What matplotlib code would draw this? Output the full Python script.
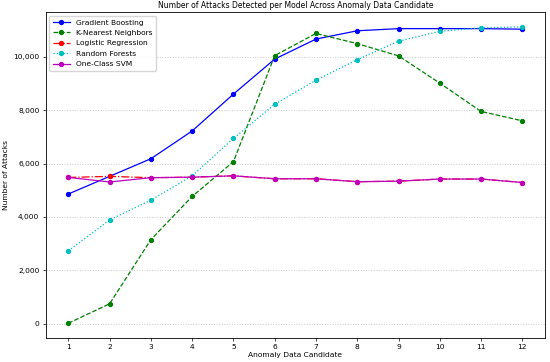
import matplotlib
matplotlib.use("Agg")
import matplotlib.pyplot as plt
from matplotlib.ticker import FuncFormatter

candidates = list(range(1, 13))

gradient_boosting = [4860, 5520, 6180, 7220, 8600, 9910, 10660, 10970, 11050, 11050, 11050, 11030]
knn = [20, 750, 3150, 4770, 6070, 10040, 10870, 10490, 10030, 9010, 7950, 7600]
logistic_regression = [5480, 5520, 5470, 5490, 5540, 5430, 5430, 5320, 5340, 5420, 5420, 5290]
random_forests = [2730, 3890, 4630, 5540, 6940, 8220, 9120, 9890, 10580, 10950, 11080, 11120]
one_class_svm = [5480, 5310, 5470, 5490, 5540, 5430, 5430, 5320, 5340, 5420, 5420, 5290]

series = [
    ("Gradient Boosting", gradient_boosting, "b", "-"),
    ("K-Nearest Neighbors", knn, "g", "--"),
    ("Logistic Regression", logistic_regression, "r", "-."),
    ("Random Forests", random_forests, "c", ":"),
    ("One-Class SVM", one_class_svm, "m", "-"),
]

fig, ax = plt.subplots(figsize=(5.5, 3.62), dpi=100)
fig.subplots_adjust(left=0.083, right=0.991, top=0.967, bottom=0.066)

for name, values, color, style in series:
    ax.plot(candidates, values, color=color, linestyle=style, marker="o",
            markersize=2.8, linewidth=0.9, label=name)

ax.set_xticks(candidates)
ax.yaxis.set_major_formatter(FuncFormatter(lambda v, p: f"{int(v):,}"))
ax.grid(axis="y", linestyle=":", color="#cccccc", linewidth=0.7)
ax.tick_params(labelsize=5.4, width=0.5, length=2.5, pad=2)
for s in ax.spines.values():
    s.set_linewidth(0.6)
ax.set_xlabel("Anomaly Data Candidate", fontsize=5.4, labelpad=1)
ax.set_ylabel("Number of Attacks", fontsize=5.4, labelpad=3)
ax.set_title("Number of Attacks Detected per Model Across Anomaly Data Candidate", fontsize=5.5, pad=3)
ax.legend(loc="upper left", fontsize=5.4, handlelength=2.2, borderpad=0.5, labelspacing=0.55)

plt.savefig("out.png")
